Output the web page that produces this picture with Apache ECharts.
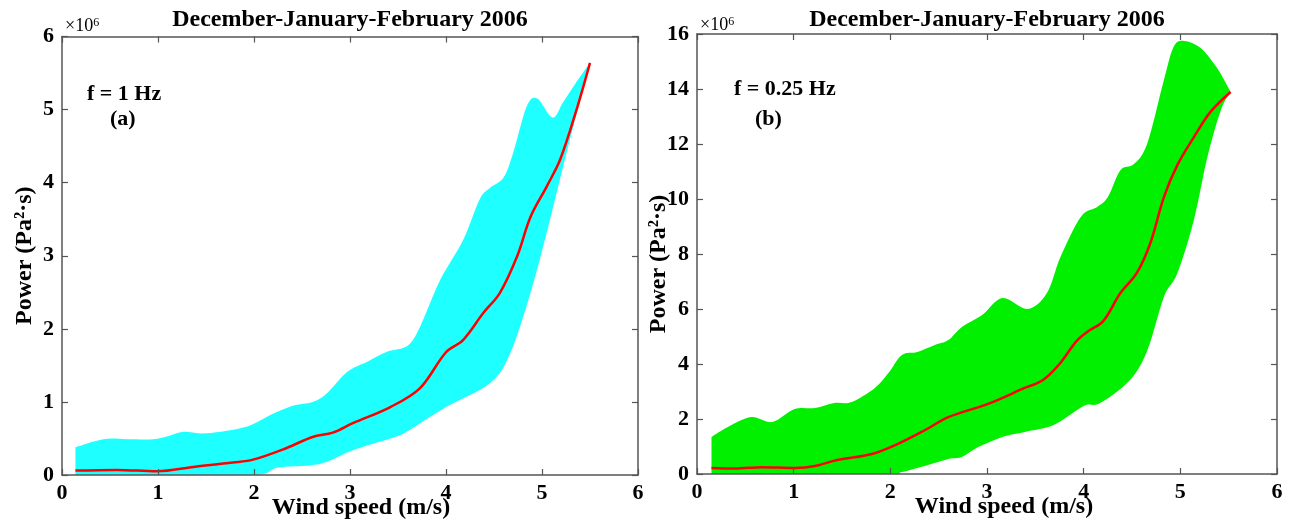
<!DOCTYPE html>
<html>
<head>
<meta charset="utf-8">
<script src="https://cdn.jsdelivr.net/npm/echarts@6/dist/echarts.min.js"></script>
<style>
html,body{margin:0;padding:0;background:#fff;}
#chart{width:1293px;height:527px;}
</style>
</head>
<body>
<div id="chart"></div>
<script>
// ---- Data (wind speed m/s, power in 1e6 Pa^2*s) ----
const titleText = 'December-January-February 2006';
const xTicks = [0, 1, 2, 3, 4, 5, 6];

// Panel (a): f = 1 Hz
const upperA = [[0.14,0.38],[0.43,0.49],[0.68,0.49],[0.95,0.49],[1.1,0.53],[1.26,0.59],[1.51,0.57],[1.92,0.66],[2.17,0.82],[2.41,0.95],[2.61,1.0],[2.76,1.12],[2.97,1.41],[3.18,1.55],[3.39,1.69],[3.6,1.77],[3.73,2.03],[3.94,2.67],[4.18,3.22],[4.35,3.77],[4.46,3.93],[4.6,4.07],[4.7,4.41],[4.84,5.04],[4.95,5.15],[5.11,4.89],[5.22,5.1],[5.36,5.38],[5.5,5.64]];
const meanA = [[0.14,0.06],[0.57,0.07],[0.99,0.05],[1.37,0.11],[1.78,0.17],[1.99,0.21],[2.34,0.37],[2.61,0.52],[2.82,0.58],[3.03,0.71],[3.42,0.93],[3.73,1.19],[4.0,1.68],[4.18,1.85],[4.39,2.22],[4.56,2.49],[4.74,2.99],[4.88,3.53],[5.05,3.95],[5.19,4.32],[5.36,5.0],[5.5,5.64]];
const lowerA = [[0.14,0],[1.0,0],[2.0,0],[2.24,0.1],[2.58,0.13],[2.76,0.18],[3.03,0.34],[3.42,0.5],[3.6,0.6],[4.0,0.93],[4.46,1.26],[4.67,1.67],[4.88,2.49],[5.05,3.32],[5.22,4.22],[5.4,5.14],[5.5,5.64]];

// Panel (b): f = 0.25 Hz
const upperB = [[0.15,1.35],[0.32,1.71],[0.56,2.07],[0.78,1.89],[1.01,2.36],[1.22,2.4],[1.42,2.58],[1.6,2.62],[1.84,3.13],[1.98,3.67],[2.12,4.33],[2.28,4.44],[2.46,4.69],[2.6,4.87],[2.74,5.35],[2.95,5.78],[3.16,6.4],[3.42,6.0],[3.62,6.58],[3.76,7.89],[3.97,9.35],[4.14,9.71],[4.25,10.07],[4.38,11.05],[4.52,11.27],[4.66,12.04],[4.83,14.33],[4.93,15.53],[5.04,15.75],[5.21,15.49],[5.38,14.76],[5.52,13.89]];
const meanB = [[0.15,0.22],[0.39,0.2],[0.67,0.25],[1.01,0.22],[1.22,0.29],[1.45,0.51],[1.81,0.73],[2.05,1.05],[2.36,1.6],[2.6,2.07],[3.01,2.55],[3.39,3.13],[3.58,3.42],[3.75,4.0],[3.93,4.85],[4.05,5.2],[4.2,5.55],[4.38,6.58],[4.55,7.31],[4.69,8.4],[4.83,10.07],[4.97,11.24],[5.14,12.25],[5.31,13.16],[5.52,13.89]];
const lowerB = [[0.15,0],[1.0,0],[1.98,0],[2.12,0.07],[2.39,0.33],[2.6,0.55],[2.74,0.62],[2.91,0.98],[3.16,1.35],[3.39,1.53],[3.69,1.78],[4.0,2.47],[4.17,2.58],[4.48,3.42],[4.66,4.51],[4.83,6.44],[4.97,7.31],[5.14,9.24],[5.28,11.53],[5.42,13.24],[5.52,13.89]];

const yTicksA = [0, 1, 2, 3, 4, 5, 6];
const yTicksB = [0, 2, 4, 6, 8, 10, 12, 14, 16];

// ---- Styling ----
const FONT = "'Liberation Serif', 'Times New Roman', serif";
const axisColor = '#555555';

// smooth path through screen points (Catmull-Rom rendered as cubic Beziers)
function smoothSegs(pts) {
  let d = '';
  for (let i = 0; i < pts.length - 1; i++) {
    const p0 = pts[Math.max(0, i - 1)], p1 = pts[i], p2 = pts[i + 1], p3 = pts[Math.min(pts.length - 1, i + 2)];
    const c1x = p1[0] + (p2[0] - p0[0]) / 6, c1y = p1[1] + (p2[1] - p0[1]) / 6;
    const c2x = p2[0] - (p3[0] - p1[0]) / 6, c2y = p2[1] - (p3[1] - p1[1]) / 6;
    d += ' C' + c1x.toFixed(2) + ' ' + c1y.toFixed(2) + ' ' + c2x.toFixed(2) + ' ' + c2y.toFixed(2) + ' ' + p2[0].toFixed(2) + ' ' + p2[1].toFixed(2);
  }
  return d;
}

function bandSeries(upper, lower, color, axisIdx) {
  return {
    type: 'custom',
    xAxisIndex: axisIdx, yAxisIndex: axisIdx,
    clip: true,
    silent: true,
    z: 1,
    data: [[upper[0][0], upper[0][1]]],
    renderItem: function (params, api) {
      const up = upper.map(p => api.coord(p));
      const lo = lower.map(p => api.coord(p)).reverse();
      let d = 'M' + up[0][0].toFixed(2) + ' ' + up[0][1].toFixed(2) + smoothSegs(up);
      d += ' L' + lo[0][0].toFixed(2) + ' ' + lo[0][1].toFixed(2) + smoothSegs(lo) + ' Z';
      return {
        type: 'path',
        shape: { pathData: d },
        style: { fill: color, stroke: null }
      };
    }
  };
}

function lineSeries(data, axisIdx) {
  return {
    type: 'line', xAxisIndex: axisIdx, yAxisIndex: axisIdx,
    data: data, smooth: 0.35, showSymbol: false, symbol: 'none',
    lineStyle: { color: '#ff0000', width: 2.5 }, z: 3, silent: true
  };
}

function xAxes(gridIdx, nameShift) {
  return [{
    type: 'value', gridIndex: gridIdx, min: xTicks[0], max: xTicks[xTicks.length-1], interval: 1,
    position: 'bottom', z: 10,
    name: 'Wind speed (m/s)', nameLocation: 'middle', nameGap: 21, nameMoveOverlap: false,
    nameTextStyle: { fontFamily: FONT, fontWeight: 'bold', fontSize: 24, color: '#000', padding: [0, 0, 0, nameShift] },
    axisLine: { show: true, onZero: false, lineStyle: { color: axisColor, width: 1.5 } },
    axisTick: { show: true, inside: true, length: 6, lineStyle: { color: axisColor, width: 1.2 } },
    axisLabel: { fontFamily: FONT, fontWeight: 'bold', fontSize: 22, color: '#000', margin: 7 },
    splitLine: { show: false }
  }, {
    type: 'value', gridIndex: gridIdx, min: xTicks[0], max: xTicks[xTicks.length-1], interval: 1,
    position: 'top', z: 10,
    axisLine: { show: true, onZero: false, lineStyle: { color: axisColor, width: 1.5 } },
    axisTick: { show: true, inside: true, length: 6, lineStyle: { color: axisColor, width: 1.2 } },
    axisLabel: { show: false }, splitLine: { show: false }
  }];
}

function yAxes(gridIdx, ticks, gap, pad) {
  const iv = ticks[1] - ticks[0];
  return [{
    type: 'value', gridIndex: gridIdx, min: ticks[0], max: ticks[ticks.length-1], interval: iv,
    position: 'left', z: 10,
    name: 'Power (Pa²·s)', nameLocation: 'middle', nameGap: gap, nameMoveOverlap: false,
    nameTextStyle: { fontFamily: FONT, fontWeight: 'bold', fontSize: 24, color: '#000', padding: pad },
    axisLine: { show: true, onZero: false, lineStyle: { color: axisColor, width: 1.5 } },
    axisTick: { show: true, inside: true, length: 6, lineStyle: { color: axisColor, width: 1.2 } },
    axisLabel: { fontFamily: FONT, fontWeight: 'bold', fontSize: 22, color: '#000', margin: 8 },
    splitLine: { show: false }
  }, {
    type: 'value', gridIndex: gridIdx, min: ticks[0], max: ticks[ticks.length-1], interval: iv,
    position: 'right', z: 10,
    axisLine: { show: true, onZero: false, lineStyle: { color: axisColor, width: 1.5 } },
    axisTick: { show: true, inside: true, length: 6, lineStyle: { color: axisColor, width: 1.2 } },
    axisLabel: { show: false }, splitLine: { show: false }
  }];
}

const chart = echarts.init(document.getElementById('chart'), null, { renderer: 'canvas' });

const xa = xAxes(0, 22).concat(xAxes(1, 34));
xa[2].gridIndex = 1; xa[3].gridIndex = 1;
const ya = yAxes(0, yTicksA, 25, [0, 0, 0, 0]).concat(yAxes(1, yTicksB, 26, [0, 20, 0, 0]));

const textStyleBold = (size) => ({ fontFamily: FONT, fontWeight: 'bold', fontSize: size, fill: '#000' });
const expRich = { s: { fontSize: 12, fontFamily: FONT, verticalAlign: 'top', lineHeight: 14 } };

chart.setOption({
  backgroundColor: '#ffffff',
  animation: false,
  title: [
    { text: titleText, left: 350, top: 20, textAlign: 'center', textVerticalAlign: 'middle', padding: 0,
      textStyle: { fontFamily: FONT, fontWeight: 'bold', fontSize: 24, color: '#000' } },
    { text: titleText, left: 987, top: 20, textAlign: 'center', textVerticalAlign: 'middle', padding: 0,
      textStyle: { fontFamily: FONT, fontWeight: 'bold', fontSize: 24, color: '#000' } }
  ],
  grid: [
    { left: 62, right: 655, top: 36.5, bottom: 52, containLabel: false, outerBoundsMode: 'none' },
    { left: 697, right: 16, top: 34, bottom: 53, containLabel: false, outerBoundsMode: 'none' }
  ],
  xAxis: xa,
  yAxis: ya,
  graphic: [
    { type: 'text', left: 65, top: 17, style: { text: '×10{s|6}', rich: expRich, fontFamily: FONT, fontSize: 18, fill: '#000' } },
    { type: 'text', left: 700, top: 16, style: { text: '×10{s|6}', rich: expRich, fontFamily: FONT, fontSize: 18, fill: '#000' } },
    { type: 'text', left: 87, top: 83, style: Object.assign({ text: 'f = 1 Hz' }, textStyleBold(22)) },
    { type: 'text', left: 110, top: 108, style: Object.assign({ text: '(a)' }, textStyleBold(22)) },
    { type: 'text', left: 734, top: 78, style: Object.assign({ text: 'f = 0.25 Hz' }, textStyleBold(22)) },
    { type: 'text', left: 755, top: 108, style: Object.assign({ text: '(b)' }, textStyleBold(22)) }
  ],
  series: [
    bandSeries(upperA, lowerA, '#1effff', 0),
    bandSeries(upperB, lowerB, '#00f000', 2),
    lineSeries(meanA, 0),
    lineSeries(meanB, 2)
  ]
});
</script>
</body>
</html>
